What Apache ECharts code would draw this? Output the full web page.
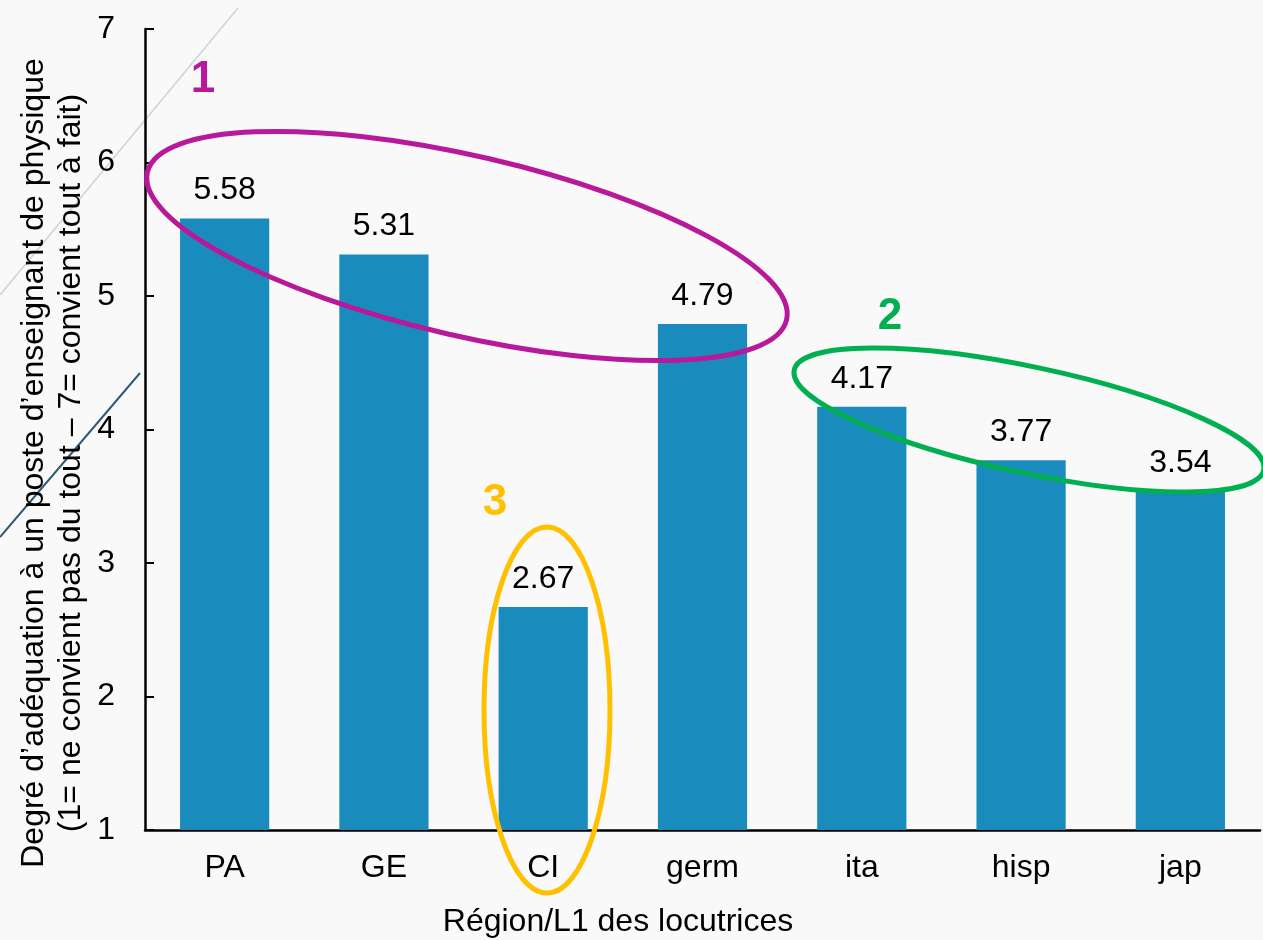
<!DOCTYPE html>
<html>
<head>
<meta charset="utf-8">
<script src="https://cdn.jsdelivr.net/npm/echarts@6/dist/echarts.min.js"></script>
<style>
  html, body { margin: 0; padding: 0; background: #f9f9f9; }
  #chart { width: 1263px; height: 940px; }
</style>
</head>
<body>
<div id="chart"></div>
<script>
// Région / L1 of the speakers and their mean rating (1–7 scale)
const categories = ['PA', 'GE', 'CI', 'germ', 'ita', 'hisp', 'jap'];
const ratings = [5.58, 5.31, 2.67, 4.79, 4.17, 3.77, 3.54];
const yTicks = [1, 2, 3, 4, 5, 6, 7];

const FONT = '"Liberation Sans", Arial, sans-serif';
const FS = 32;
const chart = echarts.init(document.getElementById('chart'), null, { renderer: 'canvas' });

// group outlines drawn over the plot
const groups = [
  { label: '1', color: '#b8189a', cx: 467, cy: 246, rx: 328, ry: 90, rot: -13, tx: 203, ty: 80 },
  { label: '2', color: '#00b050', cx: 1029, cy: 420, rx: 240, ry: 53, rot: -12, tx: 890, ty: 317 },
  { label: '3', color: '#ffc000', cx: 547, cy: 710, rx: 63, ry: 183, rot: 0, tx: 495, ty: 503 }
];

const graphics = [
  // faint decorative strokes on the left margin
  { type: 'line', z: 0, shape: { x1: 238, y1: 8, x2: 0, y2: 295 },
    style: { stroke: '#c9d4dc', lineWidth: 1.5 } },
  { type: 'line', z: 0, shape: { x1: 140, y1: 373, x2: 0, y2: 537 },
    style: { stroke: '#2f5a74', lineWidth: 2 } },
  // y-axis title (two lines)
  { type: 'text', z: 5, x: 53, y: 463, rotation: Math.PI / 2,
    style: { text: 'Degré d\u2019adéquation à un poste d\u2019enseignant de physique\n(1= ne convient pas du tout \u2013 7= convient tout à fait)',
      font: FS + 'px ' + FONT, fill: '#000', align: 'center', verticalAlign: 'middle', lineHeight: 37 } },
  // x-axis title
  { type: 'text', z: 5, x: 618, y: 922,
    style: { text: 'Région/L1 des locutrices', font: FS + 'px ' + FONT, fill: '#000',
      align: 'center', verticalAlign: 'middle' } }
];

groups.forEach(g => {
  graphics.push({
    type: 'ellipse', z: 50, x: g.cx, y: g.cy, rotation: g.rot * Math.PI / 180,
    shape: { cx: 0, cy: 0, rx: g.rx, ry: g.ry },
    style: { fill: 'none', stroke: g.color, lineWidth: 5 }
  });
  graphics.push({
    type: 'text', z: 50, x: g.tx, y: g.ty,
    style: { text: g.label, font: 'bold 44px ' + FONT, fill: g.color,
      align: 'center', verticalAlign: 'middle' }
  });
});

chart.setOption({
  backgroundColor: '#f9f9f9',
  animation: false,
  grid: { left: 145, right: 3, top: 29, bottom: 110 },
  xAxis: {
    type: 'category',
    data: categories,
    axisLine: { lineStyle: { color: '#000', width: 2.5 } },
    axisTick: { inside: true, length: 8, lineStyle: { color: '#000', width: 2 } },
    axisLabel: { color: '#000', fontFamily: FONT, fontSize: FS, margin: 22 }
  },
  yAxis: {
    type: 'value',
    min: yTicks[0],
    max: yTicks[yTicks.length - 1],
    interval: 1,
    axisLine: { show: true, lineStyle: { color: '#000', width: 2.5 } },
    axisTick: { show: true, inside: true, length: 9, lineStyle: { color: '#000', width: 2 } },
    axisLabel: { color: '#000', fontFamily: FONT, fontSize: FS, margin: 30 },
    splitLine: { show: false }
  },
  series: [{
    type: 'bar',
    data: ratings,
    barWidth: '56%',
    itemStyle: { color: '#1a8bbd' },
    label: {
      show: true, position: 'top', distance: 12,
      color: '#000', fontFamily: FONT, fontSize: FS,
      formatter: p => p.value.toFixed(2)
    }
  }],
  graphic: graphics
});
</script>
</body>
</html>
